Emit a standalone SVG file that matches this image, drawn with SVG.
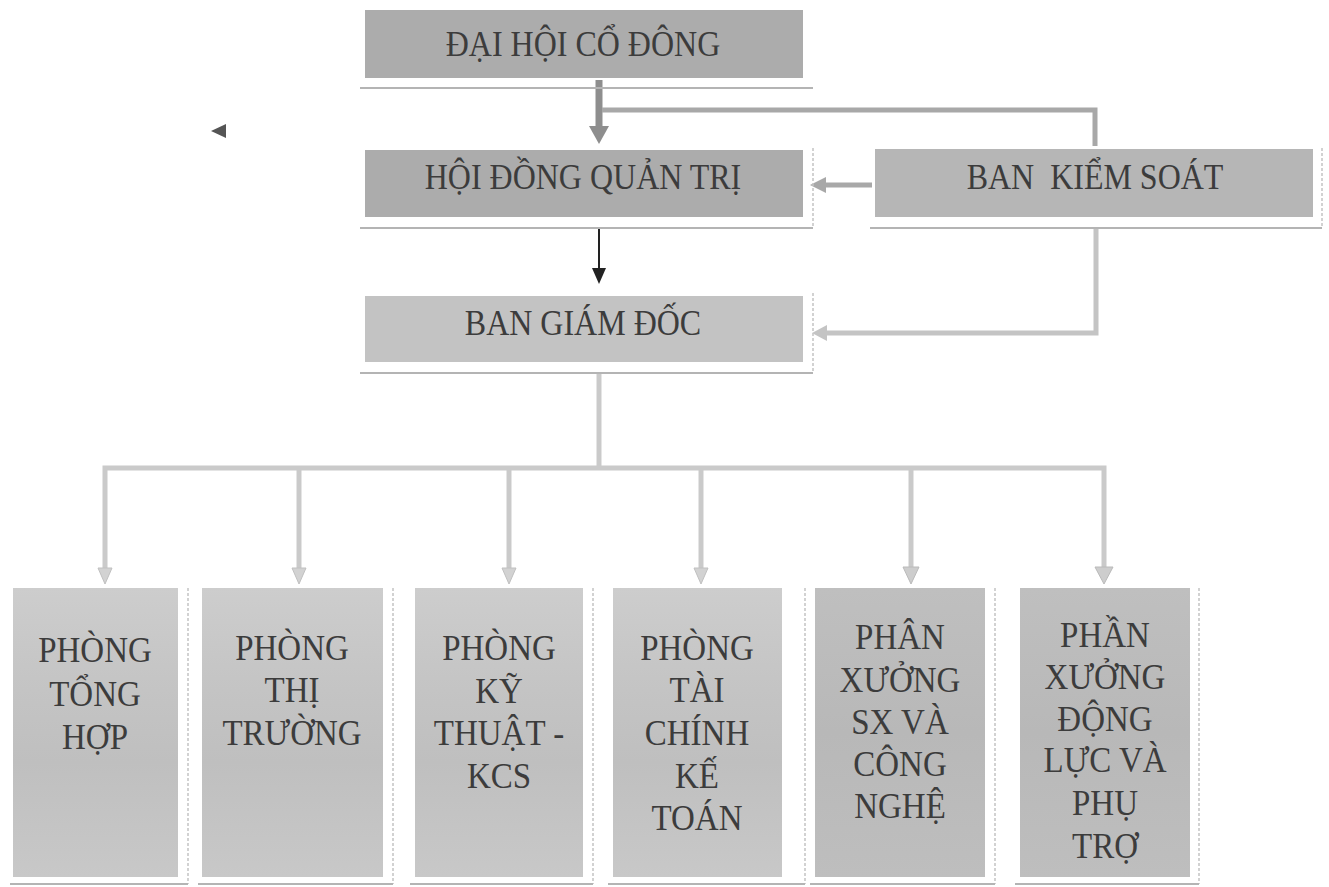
<svg xmlns="http://www.w3.org/2000/svg" width="1329" height="887" viewBox="0 0 1329 887">
<defs>
<style>
.bg{fill:#ffffff}
.box{stroke:none}
.dark{fill:#acacac}
.mid{fill:#b6b6b6}
.light{fill:#c3c3c3}
.low{fill:url(#lowGrad)}
.low6{fill:url(#lowGrad6)}
.shb{stroke:#b4b4b4;stroke-width:2;fill:none}
.shr{stroke:#c4c4c4;stroke-width:1.5;stroke-dasharray:3 2;fill:none}
.t{font-family:"Liberation Serif","Times New Roman",serif;font-size:32px;fill:#3c3c3c;text-anchor:middle}
.tb{font-family:"Liberation Serif","Times New Roman",serif;font-size:33px;fill:#3c3c3c;text-anchor:middle}
.c-thick{stroke:#8e8e8e;stroke-width:7;fill:none}
.c-mid{stroke:#a8a8a8;stroke-width:5;fill:none}
.c-light{stroke:#c4c4c4;stroke-width:5;fill:none}
.c-thin{stroke:#222222;stroke-width:2;fill:none}
.c-low{stroke:#cacaca;stroke-width:5;fill:none}
</style>
<linearGradient id="lowGrad" x1="0" y1="0" x2="0" y2="1">
<stop offset="0" stop-color="#cdcdcd"/>
<stop offset="0.35" stop-color="#c4c4c4"/>
<stop offset="0.6" stop-color="#bfbfbf"/>
<stop offset="1" stop-color="#c8c8c8"/>
</linearGradient>
<linearGradient id="lowGrad6" x1="0" y1="0" x2="0" y2="1">
<stop offset="0" stop-color="#bfbfbf"/>
<stop offset="0.5" stop-color="#b8b8b8"/>
<stop offset="1" stop-color="#bebebe"/>
</linearGradient>
</defs>
<rect class="bg" x="0" y="0" width="1329" height="887"/>

<g id="connectors">
  <line class="c-thick" x1="599" y1="80" x2="599" y2="128"/>
  <polygon points="589,126 609,126 599,144" fill="#8e8e8e"/>
  <polyline class="c-mid" points="602,110 1095,110 1095,146"/>
  <line class="c-mid" x1="872" y1="185" x2="824" y2="185"/>
  <polygon points="826,177 826,193 810,185" fill="#a8a8a8"/>
  <line class="c-thin" x1="599" y1="229" x2="599" y2="270"/>
  <polygon points="592,268 606,268 599,284" fill="#222222"/>
  <polyline class="c-light" points="1096,229 1096,333 826,333"/>
  <polygon points="827,325 827,341 812,333" fill="#c4c4c4"/>
  <line class="c-low" x1="599" y1="374" x2="599" y2="468"/>
  <polyline class="c-low" points="105,570 105,468 1104,468 1104,570"/>
  <line class="c-low" x1="299" y1="468" x2="299" y2="570"/>
  <line class="c-low" x1="509" y1="468" x2="509" y2="570"/>
  <line class="c-low" x1="701" y1="468" x2="701" y2="570"/>
  <line class="c-low" x1="911" y1="468" x2="911" y2="570"/>
  <polygon points="98,568 112,568 105,584" fill="#d2d2d2" stroke="#c0c0c0" stroke-width="1"/>
  <polygon points="292,568 306,568 299,584" fill="#d2d2d2" stroke="#c0c0c0" stroke-width="1"/>
  <polygon points="502,568 516,568 509,584" fill="#d2d2d2" stroke="#c0c0c0" stroke-width="1"/>
  <polygon points="694,568 708,568 701,584" fill="#d2d2d2" stroke="#c0c0c0" stroke-width="1"/>
  <polygon points="903,567 919,567 911,584" fill="#cdcdcd" stroke="#bababa" stroke-width="1"/>
  <polygon points="1095,567 1113,567 1104,584" fill="#cdcdcd" stroke="#bababa" stroke-width="1"/>
</g>

<g id="stray-mark">
  <polygon points="211,131 226,124 226,138" fill="#555555"/>
</g>

<g id="dai-hoi-co-dong">
  <rect class="box dark" x="365" y="10" width="438" height="68"/>
  <line class="shb" x1="360" y1="88" x2="813" y2="88"/>
  <text class="t" transform="translate(583,56) scale(1,1.13)">ĐẠI HỘI CỔ ĐÔNG</text>
</g>

<g id="hoi-dong-quan-tri">
  <rect class="box dark" x="365" y="150" width="438" height="67"/>
  <polyline class="shr" points="813,148 813,228"/>
  <line class="shb" x1="360" y1="228" x2="813" y2="228"/>
  <text class="t" transform="translate(583,189) scale(1,1.13)">HỘI ĐỒNG QUẢN TRỊ</text>
</g>

<g id="ban-kiem-soat">
  <rect class="box mid" x="875" y="149" width="438" height="68"/>
  <polyline class="shr" points="1322,148 1322,228"/>
  <line class="shb" x1="870" y1="228" x2="1322" y2="228"/>
  <text class="t" transform="translate(1095,189) scale(1,1.13)" xml:space="preserve">BAN  KIỂM SOÁT</text>
</g>

<g id="ban-giam-doc">
  <rect class="box light" x="365" y="296" width="438" height="66"/>
  <polyline class="shr" points="813,293 813,373"/>
  <line class="shb" x1="360" y1="373" x2="813" y2="373"/>
  <text class="t" transform="translate(583,335) scale(1,1.13)">BAN GIÁM ĐỐC</text>
</g>

<g id="phong-tong-hop">
  <rect class="box low" x="13" y="588" width="165" height="289"/>
  <line class="shr" x1="188" y1="588" x2="188" y2="884"/>
  <line class="shb" x1="10" y1="884" x2="188" y2="884"/>
  <text class="tb" transform="translate(95,662) scale(1,1.1)">PHÒNG</text>
  <text class="tb" transform="translate(95,706) scale(1,1.1)">TỔNG</text>
  <text class="tb" transform="translate(95,749) scale(1,1.1)">HỢP</text>
</g>

<g id="phong-thi-truong">
  <rect class="box low" x="202" y="588" width="181" height="289"/>
  <line class="shr" x1="393" y1="588" x2="393" y2="884"/>
  <line class="shb" x1="198" y1="884" x2="393" y2="884"/>
  <text class="tb" transform="translate(292,660) scale(1,1.1)">PHÒNG</text>
  <text class="tb" transform="translate(292,702) scale(1,1.1)">THỊ</text>
  <text class="tb" transform="translate(292,745) scale(1,1.1)">TRƯỜNG</text>
</g>

<g id="phong-ky-thuat-kcs">
  <rect class="box low" x="415" y="588" width="168" height="289"/>
  <line class="shr" x1="593" y1="588" x2="593" y2="884"/>
  <line class="shb" x1="410" y1="884" x2="593" y2="884"/>
  <text class="tb" transform="translate(499,660) scale(1,1.1)">PHÒNG</text>
  <text class="tb" transform="translate(499,703) scale(1,1.1)">KỸ</text>
  <text class="tb" transform="translate(499,745) scale(1,1.1)">THUẬT -</text>
  <text class="tb" transform="translate(499,788) scale(1,1.1)">KCS</text>
</g>

<g id="phong-tai-chinh-ke-toan">
  <rect class="box low" x="613" y="588" width="169" height="289"/>
  <line class="shr" x1="805" y1="588" x2="805" y2="884"/>
  <line class="shb" x1="608" y1="884" x2="805" y2="884"/>
  <text class="tb" transform="translate(697,660) scale(1,1.1)">PHÒNG</text>
  <text class="tb" transform="translate(697,702) scale(1,1.1)">TÀI</text>
  <text class="tb" transform="translate(697,745) scale(1,1.1)">CHÍNH</text>
  <text class="tb" transform="translate(697,788) scale(1,1.1)">KẾ</text>
  <text class="tb" transform="translate(697,830) scale(1,1.1)">TOÁN</text>
</g>

<g id="phan-xuong-sx-cong-nghe">
  <rect class="box low6" x="815" y="588" width="170" height="289"/>
  <line class="shr" x1="995" y1="588" x2="995" y2="884"/>
  <line class="shb" x1="810" y1="884" x2="995" y2="884"/>
  <text class="tb" transform="translate(900,649) scale(1,1.1)">PHÂN</text>
  <text class="tb" transform="translate(900,692) scale(1,1.1)">XƯỞNG</text>
  <text class="tb" transform="translate(900,734) scale(1,1.1)">SX VÀ</text>
  <text class="tb" transform="translate(900,776) scale(1,1.1)">CÔNG</text>
  <text class="tb" transform="translate(900,818) scale(1,1.1)">NGHỆ</text>
</g>

<g id="phan-xuong-dong-luc-phu-tro">
  <rect class="box low6" x="1020" y="588" width="170" height="289"/>
  <line class="shr" x1="1199" y1="588" x2="1199" y2="884"/>
  <line class="shb" x1="1015" y1="884" x2="1199" y2="884"/>
  <text class="tb" transform="translate(1105,647) scale(1,1.1)">PHẦN</text>
  <text class="tb" transform="translate(1105,689) scale(1,1.1)">XƯỞNG</text>
  <text class="tb" transform="translate(1105,731) scale(1,1.1)">ĐỘNG</text>
  <text class="tb" transform="translate(1105,772) scale(1,1.1)">LỰC VÀ</text>
  <text class="tb" transform="translate(1105,815) scale(1,1.1)">PHỤ</text>
  <text class="tb" transform="translate(1105,858) scale(1,1.1)">TRỢ</text>
</g>
</svg>
